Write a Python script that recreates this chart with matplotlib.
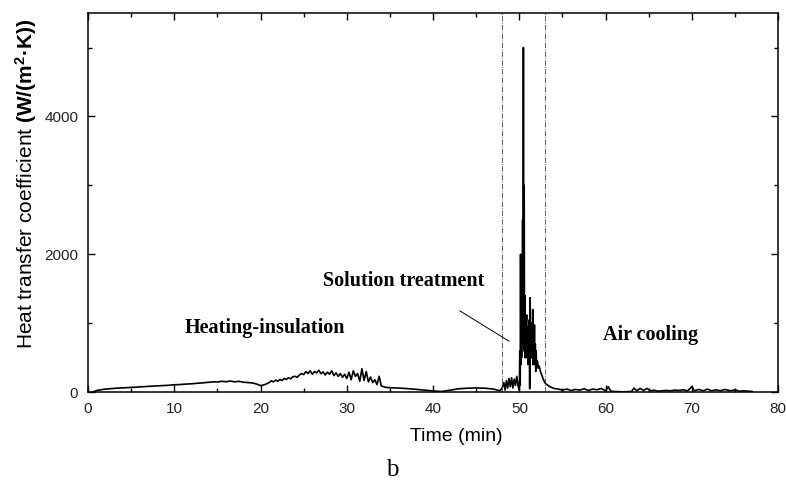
import matplotlib.pyplot as plt
from matplotlib.ticker import MultipleLocator

plt.rcParams['mathtext.fontset'] = 'custom'
plt.rcParams['mathtext.rm'] = 'Liberation Sans'
plt.rcParams['mathtext.bf'] = 'Liberation Sans:bold'

# time (min) and heat transfer coefficient W/(m2.K)
time_min = [
    0.5, 1, 1.5, 2, 2.5, 3, 3.5, 4, 4.5, 5, 5.5, 6, 6.5, 7, 7.5, 8, 8.5, 9, 9.5,
    10, 10.5, 11, 11.5, 12, 12.5, 13, 13.5, 14, 14.5, 15, 15.5, 16, 16.5, 17,
    17.5, 18, 18.5, 19, 19.5, 20, 20.5,
    21, 21.25, 21.5, 21.75, 22, 22.25, 22.5, 22.75, 23, 23.25, 23.5, 23.75, 24,
    24.25, 24.5, 24.75, 25, 25.25, 25.5, 25.75, 26, 26.25, 26.5, 26.75, 27,
    27.25, 27.5, 27.75, 28, 28.25, 28.5, 28.75, 29, 29.25, 29.5, 29.75, 30,
    30.25, 30.5, 30.75, 31, 31.25, 31.5, 31.75, 32, 32.25, 32.5, 32.75, 33,
    33.25, 33.5, 33.75, 34, 34.5, 35,
    36, 37, 38, 39, 40, 41, 42, 43, 44, 45, 46, 47, 47.75,
    48, 48.2, 48.35, 48.5, 48.65, 48.8, 48.95, 49.1, 49.25, 49.4, 49.55, 49.7,
    49.85, 50.0, 50.05, 50.1, 50.14, 50.18, 50.22, 50.26, 50.3, 50.34, 50.38,
    50.42, 50.47, 50.52, 50.56, 50.6, 50.64, 50.68, 50.72, 50.76, 50.8, 50.85,
    50.9, 50.95, 51.0, 51.05, 51.1, 51.15, 51.2, 51.25, 51.3, 51.35, 51.4,
    51.45, 51.5, 51.55, 51.6, 51.65, 51.7, 51.75, 51.8, 51.85, 51.9, 51.95,
    52.0, 52.1, 52.2, 52.3, 52.45, 52.6, 52.8, 53, 53.3, 53.6, 54, 54.5,
    55, 55.5, 56, 56.5, 57, 57.5, 58, 58.5, 59, 59.5, 60, 60.3, 60.6, 61, 62,
    63, 63.3, 63.6, 64, 64.4, 64.8, 65.2, 65.6, 66, 66.5, 67, 67.5, 68, 68.5,
    69, 69.5, 70, 70.3, 70.8, 71.3, 71.8, 72.3, 72.8, 73.3, 73.8, 74.5, 75,
    75.5, 76, 77,
]
htc = [
    0, 25, 35, 45, 50, 55, 60, 62, 66, 70, 72, 78, 80, 85, 88, 92, 95, 98, 102,
    108, 110, 115, 118, 122, 128, 132, 138, 145, 150, 148, 158, 152, 162, 150,
    158, 145, 140, 135, 120, 95, 110,
    140, 165, 150, 175, 160, 185, 170, 200, 185, 210, 195, 225, 230,
    215, 250, 270, 255, 300, 270, 310, 260, 300, 280, 320, 270,
    295, 250, 290, 260, 310, 240, 280, 230, 270, 215, 260, 200,
    290, 180, 310, 230, 270, 160, 340, 170, 300, 150, 220, 140,
    180, 110, 230, 90, 70, 65,
    60, 52, 42, 30, 18, 10, 30, 50, 58, 62, 58, 45, 20,
    60, 140, 30, 170, 60, 200, 80, 210, 60, 190, 100, 230,
    90, 30, 600, 100, 2000, 400, 1500, 500, 1900, 700, 2500,
    800, 5000, 600, 3000, 700, 1400, 500, 1100, 600, 1000, 1120,
    500, 950, 400, 900, 700, 1050, 50, 1370, 600, 1000, 500,
    900, 700, 1200, 400, 800, 500, 975, 400, 700, 300, 600,
    350, 450, 350, 380, 300, 250, 180, 130, 100, 75, 55, 45,
    30, 45, 25, 40, 30, 50, 25, 45, 35, 55, 20, 80, 15, 10, 5,
    10, 60, 20, 55, 25, 55, 20, 30, 15, 20, 25, 20, 30, 25,
    35, 20, 80, 20, 40, 20, 45, 20, 35, 20, 40, 20, 35,
    15, 20, 10,
]

stage_bounds = [48, 53]
x_ticks = [0, 10, 20, 30, 40, 50, 60, 70, 80]
y_ticks = [0, 2000, 4000]

fig = plt.figure(figsize=(7.86, 4.83), dpi=100)
ax = fig.add_axes([0.112, 0.188, 0.878, 0.785])

ax.plot(time_min, htc, color='black', linewidth=1.2)
for xb in stage_bounds:
    ax.axvline(xb, color='#444444', linestyle='-.', linewidth=0.6)

ax.set_xlim(0, 80)
ax.set_ylim(0, 5500)
ax.set_xticks(x_ticks)
ax.set_yticks(y_ticks)
ax.xaxis.set_minor_locator(MultipleLocator(5))
ax.yaxis.set_minor_locator(MultipleLocator(1000))
ax.tick_params(which='both', direction='in', top=True, right=True, width=1)
ax.tick_params(which='major', length=5, labelsize=11, pad=7, labelcolor='#222222')
ax.tick_params(which='minor', length=3)
for lab in ax.get_xticklabels() + ax.get_yticklabels():
    lab.set_family('Liberation Sans')
for sp in ax.spines.values():
    sp.set_linewidth(1.1)

ax.set_xlabel('Time (min)', fontsize=14, family='Liberation Sans', labelpad=9, x=0.533)
ax.set_ylabel('Heat transfer coefficient $\\mathbf{(W/(m^2\u00b7K))}$', fontsize=15,
              family='Liberation Sans', labelpad=4, y=0.55)

serif_bold = dict(family='Liberation Serif', fontweight='bold', fontsize=14.5)
ax.text(36.55, 1615, 'Solution treatment', ha='center', va='center', **serif_bold)
ax.text(11.2, 930, 'Heating-insulation', ha='left', va='center', **serif_bold)
ax.text(65.2, 830, 'Air cooling', ha='center', va='center', **serif_bold)
ax.plot([43.1, 48.8], [1180, 740], color='black', linewidth=0.7)

fig.text(0.499, 0.027, 'b', family='Liberation Serif', fontsize=18, ha='center', va='center')

fig.savefig('out.png', dpi=100)
